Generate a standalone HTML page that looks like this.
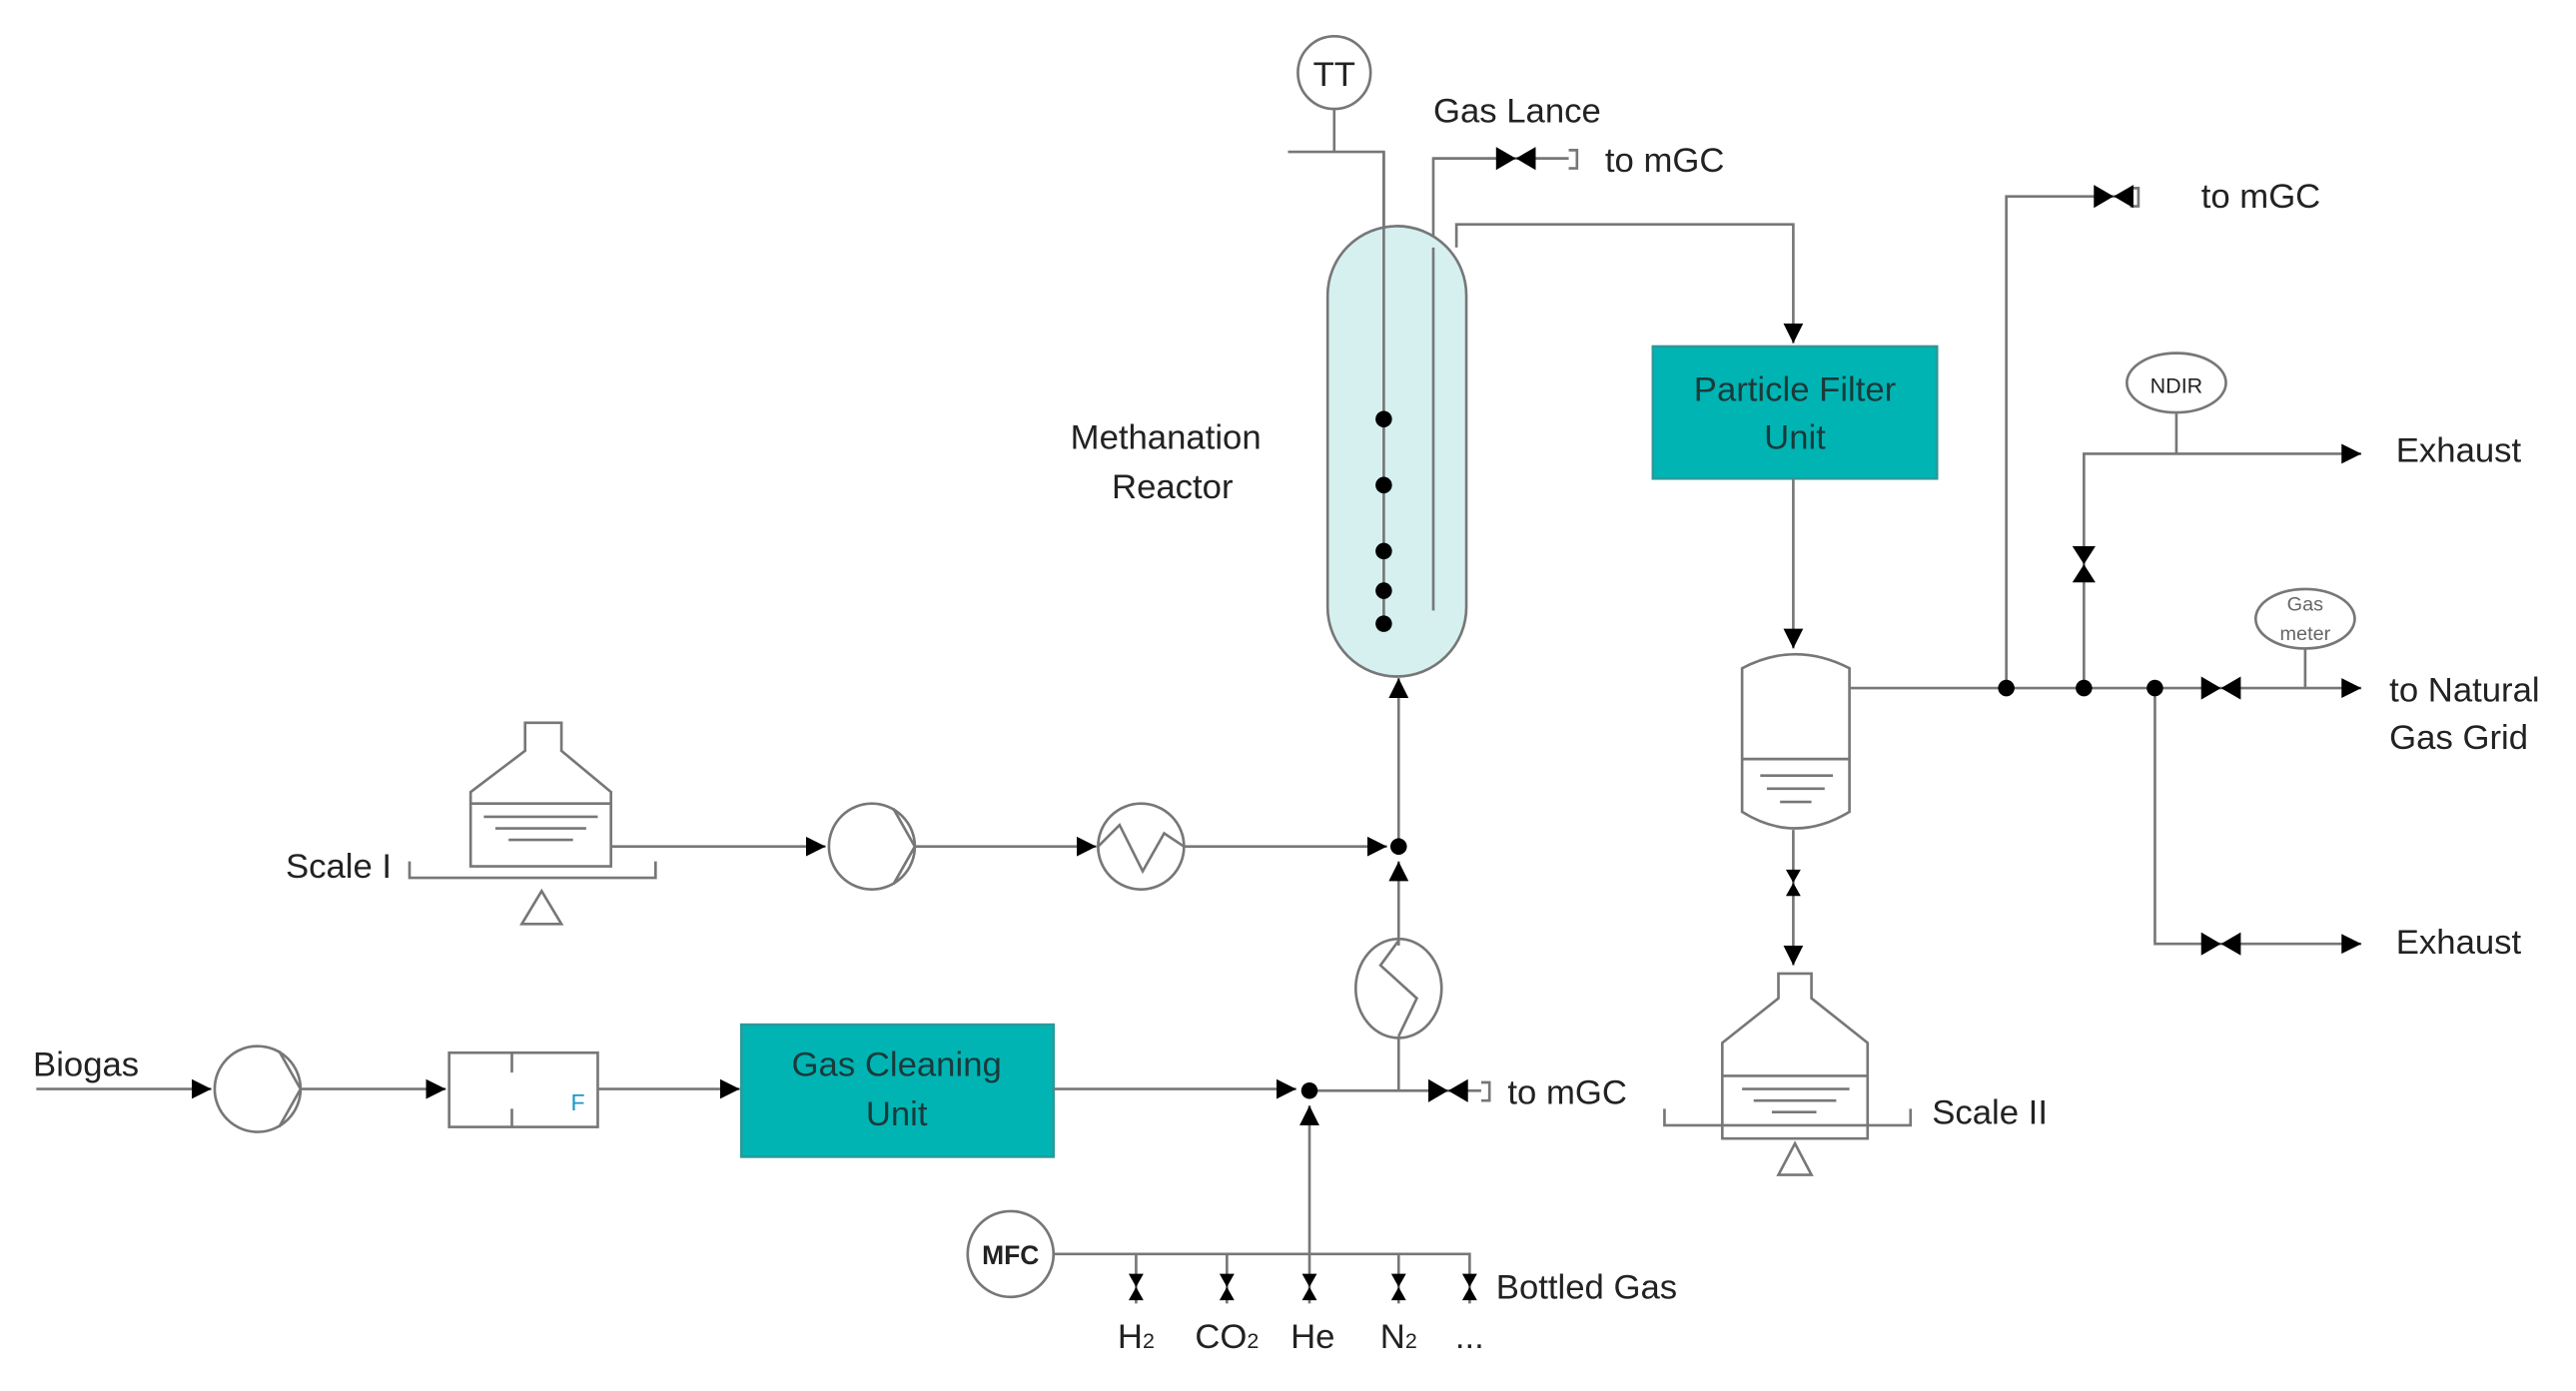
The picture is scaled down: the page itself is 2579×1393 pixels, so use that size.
<!DOCTYPE html>
<html><head><meta charset="utf-8"><style>
html,body{margin:0;padding:0;background:#fff;}
svg{display:block;}
text{font-family:"Liberation Sans",sans-serif;fill:#222;}
</style></head><body>
<svg width="2579" height="1393" viewBox="0 0 1560 843" preserveAspectRatio="none" xmlns="http://www.w3.org/2000/svg">
<defs>
<marker id="a" viewBox="0 0 10 10" refX="10" refY="5" markerWidth="12" markerHeight="12" markerUnits="userSpaceOnUse" orient="auto"><path d="M0,0L10,5L0,10z" fill="#000"/></marker>
<g id="vh"><path d="M-12,-7L0,0L-12,7zM12,-7L0,0L12,7z" fill="#000"/></g>
<g id="vv"><path d="M-7,-11L0,0L7,-11zM-7,11L0,0L7,11z" fill="#000"/></g>
<g id="vs"><path d="M-4.5,-8L0,0L4.5,-8zM-4.5,8L0,0L4.5,8z" fill="#000"/></g>
</defs>
<g fill="none" stroke="#777" stroke-width="1.6">
<circle cx="808" cy="44" r="22"/>
<path d="M808,66V92M780,92H838V380"/>
<path d="M868,370V96H950M950,91h5v11h-5" />
<rect x="804" y="137" width="84" height="273" rx="42" fill="#d6f0f0"/>
<path d="M838,92V380M868,150V370"/>
<path d="M882,150V136H1086V208" marker-end="url(#a)"/>
<rect x="1001" y="210" width="172" height="80" fill="#00b4b4" stroke="#2a9a9a"/>
<path d="M1086,290V393" marker-end="url(#a)"/>
<path d="M1055,405Q1087,388 1120,405V492Q1087,512 1055,492Z"/>
<path d="M1055,460H1120M1066,470H1110M1070,478H1105M1078,486H1097"/>
<path d="M1120,417H1430" marker-end="url(#a)"/>
<path d="M1215,417V119H1290M1290,114h5v11h-5"/>
<path d="M1262,417V275H1430" marker-end="url(#a)"/>
<path d="M1318,250V275"/>
<ellipse cx="1318" cy="232" rx="30" ry="18"/>
<path d="M1305,417V572H1430" marker-end="url(#a)"/>
<ellipse cx="1396" cy="375" rx="30" ry="18"/>
<path d="M1396,393V417"/>
<path d="M1086,503V585" marker-end="url(#a)"/>
<path d="M1077,605V590H1097V605L1131,632V690H1043V632Z"/>
<path d="M1043,652H1131M1055,660H1120M1062,667H1112M1073,674H1100"/>
<path d="M1008,672V682H1157V672"/>
<path d="M1087,693L1077,712H1097Z"/>
<path d="M318,455V438H340V455L370,480V525H285V480Z"/>
<path d="M285,487H370M293,495H362M300,502H355M308,509H347"/>
<path d="M248,522V532H397V522"/>
<path d="M328,540L316,560H340Z"/>
<path d="M370,513H500" marker-end="url(#a)"/>
<circle cx="528" cy="513" r="26"/>
<path d="M541,490L554,513L541,536"/>
<path d="M554,513H664" marker-end="url(#a)"/>
<circle cx="691" cy="513" r="26"/>
<path d="M665,513L678,500L692,528L705,505L717,513"/>
<path d="M717,513H840" marker-end="url(#a)"/>
<path d="M847,513V411" marker-end="url(#a)"/>
<path d="M847,573V522" marker-end="url(#a)"/>
<ellipse cx="847" cy="599" rx="26" ry="30"/>
<path d="M847,570L836,585L858,605L847,628"/>
<path d="M847,628V661"/>
<path d="M22,660H128" marker-end="url(#a)"/>
<circle cx="156" cy="660" r="26"/>
<path d="M169,637L182,660L169,683"/>
<path d="M182,660H270" marker-end="url(#a)"/>
<rect x="272" y="638" width="90" height="45"/>
<path d="M310,638V650M310,672V683"/>
<path d="M362,660H448" marker-end="url(#a)"/>
<rect x="449" y="621" width="189" height="80" fill="#00b4b4" stroke="#2a9a9a"/>
<path d="M638,660H785" marker-end="url(#a)"/>
<path d="M793,661H897M897,656h5v11h-5"/>
<path d="M793,760V670" marker-end="url(#a)"/>
<circle cx="612" cy="760" r="26"/>
<path d="M638,760H890V790M688,760V790M743,760V790M793,760V790M847,760V790"/>
</g>
<circle cx="838" cy="254" r="5"/><circle cx="838" cy="294" r="5"/><circle cx="838" cy="334" r="5"/><circle cx="838" cy="358" r="5"/><circle cx="838" cy="378" r="5"/>
<circle cx="847" cy="513" r="5"/><circle cx="793" cy="661" r="5"/>
<circle cx="1215" cy="417" r="5"/><circle cx="1262" cy="417" r="5"/><circle cx="1305" cy="417" r="5"/>
<use href="#vh" x="918" y="96"/><use href="#vh" x="1280" y="119"/><use href="#vh" x="1345" y="417"/><use href="#vh" x="1345" y="572"/><use href="#vh" x="877" y="661"/>
<use href="#vv" x="1262" y="342"/><use href="#vs" x="1086" y="535"/>
<use href="#vs" x="688" y="780"/><use href="#vs" x="743" y="780"/><use href="#vs" x="793" y="780"/><use href="#vs" x="847" y="780"/><use href="#vs" x="890" y="780"/>
<g font-size="21">
<text x="808" y="52" text-anchor="middle">TT</text>
<text x="868" y="74">Gas Lance</text>
<text x="972" y="104">to mGC</text>
<text x="1333" y="126">to mGC</text>
<text x="913" y="669">to mGC</text>
<text x="706" y="272" text-anchor="middle">Methanation</text>
<text x="710" y="302" text-anchor="middle">Reactor</text>
<text x="1087" y="243" text-anchor="middle" style="fill:#1a3a3a">Particle Filter</text>
<text x="1087" y="272" text-anchor="middle" style="fill:#1a3a3a">Unit</text>
<text x="543" y="652" text-anchor="middle" style="fill:#1a3a3a">Gas Cleaning</text>
<text x="543" y="682" text-anchor="middle" style="fill:#1a3a3a">Unit</text>
<text x="1451" y="280">Exhaust</text>
<text x="1451" y="578">Exhaust</text>
<text x="1447" y="425">to Natural</text>
<text x="1447" y="454">Gas Grid</text>
<text x="173" y="532">Scale I</text>
<text x="1170" y="681">Scale II</text>
<text x="20" y="652">Biogas</text>
<text x="906" y="787">Bottled Gas</text>
<text x="688" y="817" text-anchor="middle">H<tspan font-size="13">2</tspan></text>
<text x="743" y="817" text-anchor="middle">CO<tspan font-size="13">2</tspan></text>
<text x="795" y="817" text-anchor="middle">He</text>
<text x="847" y="817" text-anchor="middle">N<tspan font-size="13">2</tspan></text>
<text x="890" y="817" text-anchor="middle">...</text>
</g>
<text x="612" y="766" text-anchor="middle" font-size="16" font-weight="bold">MFC</text>
<text x="1318" y="238" text-anchor="middle" font-size="13">NDIR</text>
<text x="1396" y="370" text-anchor="middle" font-size="12" style="fill:#666">Gas</text>
<text x="1396" y="388" text-anchor="middle" font-size="12" style="fill:#666">meter</text>
<text x="350" y="673" text-anchor="middle" font-size="14" style="fill:#1a9ac0">F</text>
</svg>
</body></html>
